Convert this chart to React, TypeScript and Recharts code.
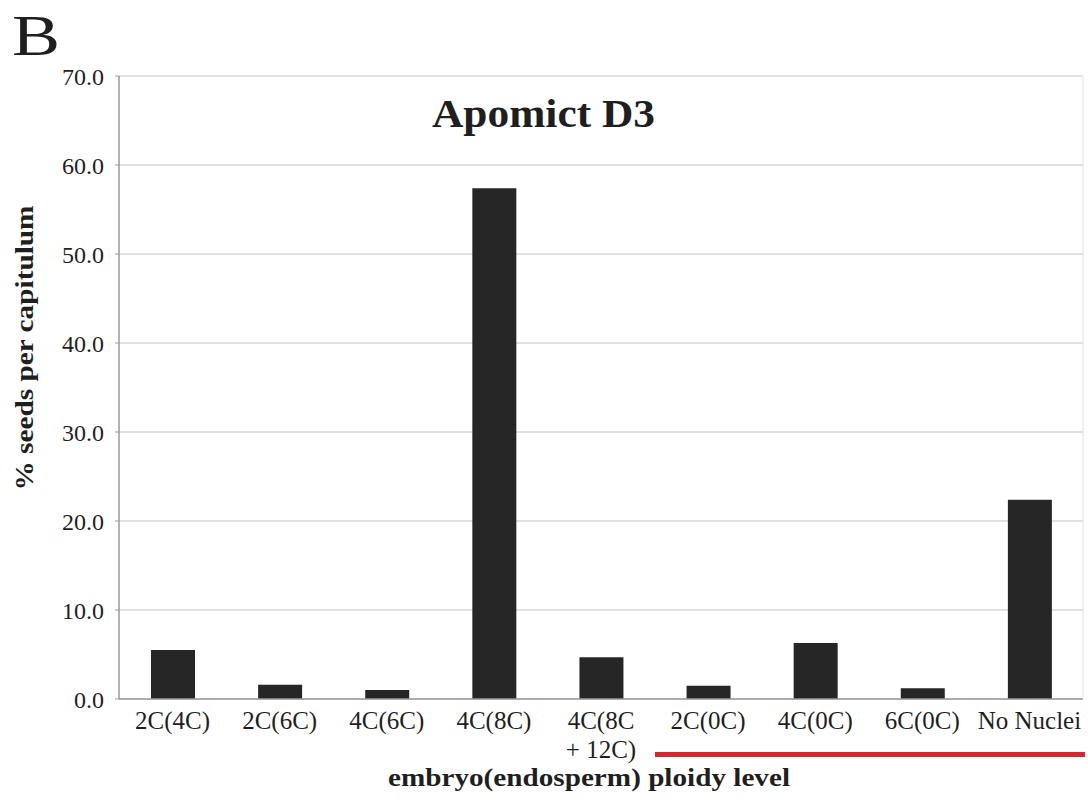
import React from 'react';
import { BarChart, Bar, XAxis, YAxis, CartesianGrid } from 'recharts';

// Embryo (endosperm) ploidy classes and the share of seeds in each
const categories: string[] = [
  '2C(4C)',
  '2C(6C)',
  '4C(6C)',
  '4C(8C)',
  '4C(8C\n+ 12C)',
  '2C(0C)',
  '4C(0C)',
  '6C(0C)',
  'No Nuclei',
];
const seedPercent: number[] = [5.5, 1.6, 1.0, 57.4, 4.7, 1.5, 6.3, 1.2, 22.4];
const yTicks: number[] = [0, 10, 20, 30, 40, 50, 60, 70];

const data = categories.map((name, i) => ({ name, value: seedPercent[i] }));

const SERIF = '"Liberation Serif", "Times New Roman", Times, serif';
const INK = '#1f1f1f';

const CategoryTick = (props: any) => {
  const { x, y, payload } = props;
  const lines = String(payload.value).split('\n');
  return (
    <text
      x={x}
      y={y}
      textAnchor="middle"
      fontFamily={SERIF}
      fontSize={25}
      fill={INK}
    >
      {lines.map((line, i) => (
        <tspan key={i} x={x} dy={i === 0 ? 22 : 29}>
          {line}
        </tspan>
      ))}
    </text>
  );
};

export default function App() {
  return (
    <div
      style={{
        position: 'absolute',
        left: 0,
        top: 0,
        width: 1088,
        height: 809,
        background: '#ffffff',
        overflow: 'hidden',
      }}
    >
      <BarChart
        width={1088}
        height={809}
        data={data}
        margin={{ top: 76, right: 5, bottom: 0, left: 0 }}
        barCategoryGap="0%"
      >
        <CartesianGrid vertical={false} stroke="#c4c4c4" strokeWidth={1.2} />
        <XAxis
          dataKey="name"
          height={110}
          interval={0}
          tickLine={false}
          axisLine={{ stroke: '#9a9a9a', strokeWidth: 1.5 }}
          tick={<CategoryTick />}
        />
        <YAxis
          width={119}
          domain={[0, 70]}
          ticks={yTicks}
          interval={0}
          tickFormatter={(v: number) => v.toFixed(1)}
          tickSize={4}
          tickMargin={11}
          tickLine={{ stroke: '#9a9a9a' }}
          axisLine={{ stroke: '#9a9a9a', strokeWidth: 1.5 }}
          tick={{ fontFamily: SERIF, fontSize: 24, fill: INK }}
        />
        <Bar dataKey="value" fill="#262626" barSize={44} isAnimationActive={false} />
      </BarChart>

      <svg
        width={1088}
        height={809}
        style={{ position: 'absolute', left: 0, top: 0, pointerEvents: 'none' }}
      >
        <line x1={1083} y1={76} x2={1083} y2={699} stroke="#e2e2e2" strokeWidth={1} />
        <text x={12} y={55} fontFamily={SERIF} fontSize={56} fill={INK} textLength={48} lengthAdjust="spacingAndGlyphs">
          B
        </text>
        <text
          x={432}
          y={127}
          fontFamily={SERIF}
          fontSize={41}
          fontWeight="bold"
          fill={INK}
          textLength={223}
          lengthAdjust="spacingAndGlyphs"
        >
          Apomict D3
        </text>
        <text
          x={0}
          y={0}
          transform="translate(33 348) rotate(-90)"
          textAnchor="middle"
          fontFamily={SERIF}
          fontSize={26}
          fontWeight="bold"
          fill={INK}
          textLength={285}
          lengthAdjust="spacingAndGlyphs"
        >
          % seeds per capitulum
        </text>
        <text
          x={589}
          y={786}
          textAnchor="middle"
          fontFamily={SERIF}
          fontSize={26}
          fontWeight="bold"
          fill={INK}
          textLength={402}
          lengthAdjust="spacingAndGlyphs"
        >
          embryo(endosperm) ploidy level
        </text>
        <rect x={655} y={752} width={430} height={5} fill="#d8262c" />
      </svg>
    </div>
  );
}
